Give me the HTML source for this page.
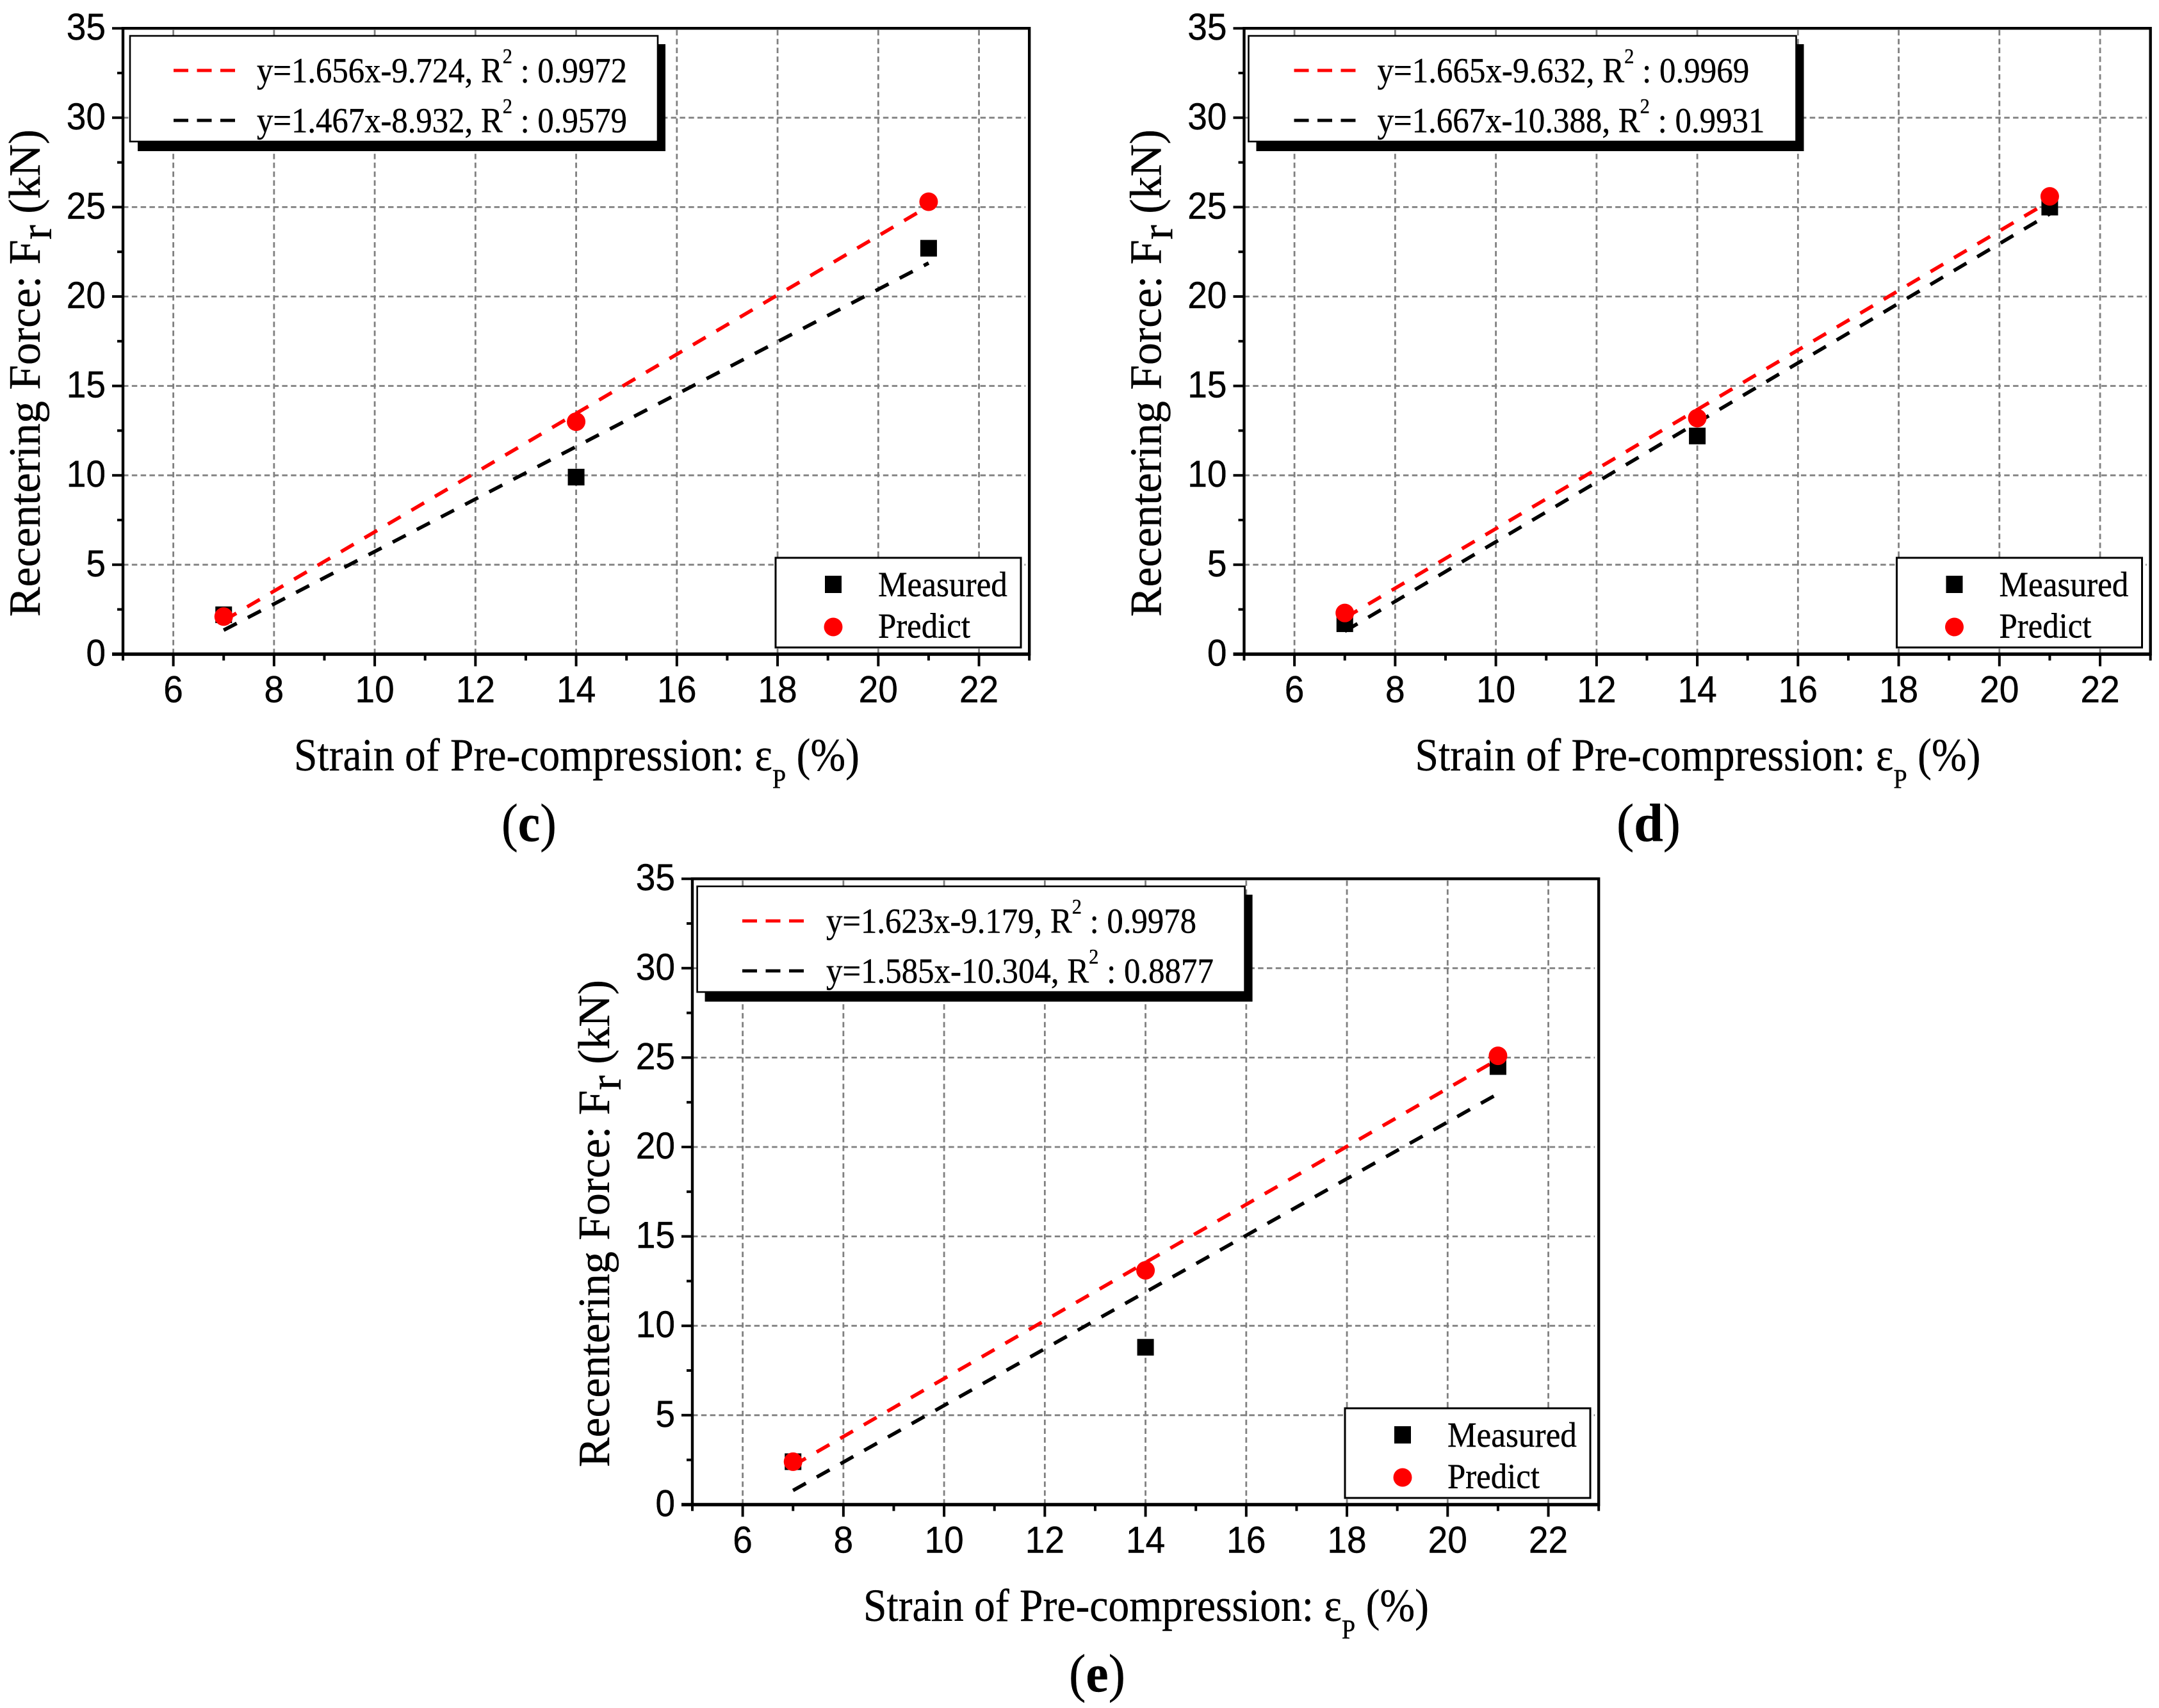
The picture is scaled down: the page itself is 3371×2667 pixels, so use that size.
<!DOCTYPE html>
<html lang="en">
<head>
<meta charset="utf-8">
<title>Recentering force vs strain of pre-compression</title>
<style>
html,body{margin:0;padding:0;background:#fff;}
svg{display:block;}
</style>
</head>
<body>
<svg id="figure" xmlns="http://www.w3.org/2000/svg" width="3371" height="2667" viewBox="0 0 3371 2667">
<rect x="0" y="0" width="3371" height="2667" fill="#ffffff"/>
</svg>
<script>
const xTickLabels = [6, 8, 10, 12, 14, 16, 18, 20, 22];
const xMinorTicks = [5, 7, 9, 11, 13, 15, 17, 19, 21, 23];
const yTickLabels = [0, 5, 10, 15, 20, 25, 30, 35];
const yMinorTicks = [2.5, 7.5, 12.5, 17.5, 22.5, 27.5, 32.5];
const strainValues = [7, 14, 21];
const fitStrainEnds = [7, 21];

const measuredC = [2.2, 9.9, 22.7];
const predictC = [2.1, 13.0, 25.3];
const fitPredictC = [1.87, 25.05];
const fitMeasuredC = [1.34, 21.87];
const equationsC = ['y=1.656x-9.724, R', 'y=1.467x-8.932, R'];
const r2C = [' : 0.9972', ' : 0.9579'];

const measuredD = [1.7, 12.2, 25.0];
const predictD = [2.3, 13.2, 25.6];
const fitPredictD = [2.02, 25.33];
const fitMeasuredD = [1.28, 24.62];
const equationsD = ['y=1.665x-9.632, R', 'y=1.667x-10.388, R'];
const r2D = [' : 0.9969', ' : 0.9931'];

const measuredE = [2.4, 8.8, 24.5];
const predictE = [2.4, 13.1, 25.1];
const fitPredictE = [2.18, 24.9];
const fitMeasuredE = [0.79, 22.98];
const equationsE = ['y=1.623x-9.179, R', 'y=1.585x-10.304, R'];
const r2E = [' : 0.9978', ' : 0.8877'];

const NS = 'http://www.w3.org/2000/svg';
const SANS = '"Liberation Sans", sans-serif';
const SERIF = '"Liberation Serif", serif';
const root = document.getElementById('figure');

function make(tag, parent, attrs) {
  const e = document.createElementNS(NS, tag);
  for (const k in attrs) e.setAttribute(k, attrs[k]);
  parent.appendChild(e);
  return e;
}

function addText(parent, name, pieces, o) {
  const t = make('text', parent, {
    'font-family': o.family,
    'font-size': o.size,
    'font-weight': o.weight || 'normal',
    'text-anchor': o.anchor || 'start',
    fill: '#000',
    stroke: '#000',
    'stroke-width': o.stroke || 0.4
  });
  
  
  pieces.forEach(function (p) {
    const s = make('tspan', t, {});
    if (p.dy) s.setAttribute('dy', p.dy);
    if (p.size) s.setAttribute('font-size', p.size);
    if (p.weight) s.setAttribute('font-weight', p.weight);
    s.setAttribute('xml:space', 'preserve');
    s.style.whiteSpace = 'pre';
    s.textContent = p.t;
  });
  let sx = o.sx || 1;
  if (o.width) sx = o.width / t.getComputedTextLength();
  const rot = o.rotate ? ' rotate(' + o.rotate + ')' : '';
  t.setAttribute('transform', 'translate(' + o.x + ',' + o.y + ')' + rot + ' scale(' + sx + ',1)');
  return t;
}

function drawPanel(p) {
  const X = function (v) { return p.ox + 192 + (v - 5) * 78.62; };
  const Y = function (v) { return p.oy + 1021.4 - v * 27.92; };
  const L = X(5), R = X(23), T = Y(35), B = Y(0);

  const g = make('g', root, {});
  
  

  const grid = make('g', g, { stroke: '#808080', 'stroke-width': 2.8, 'stroke-dasharray': '8.5 5.3', fill: 'none' });
  
  
  xTickLabels.forEach(function (v) {
    const l = make('line', grid, { x1: X(v), x2: X(v), y1: B, y2: T });
    
    
  });
  yTickLabels.slice(1, -1).forEach(function (v) {
    const l = make('line', grid, { x1: L, x2: R - 6, y1: Y(v), y2: Y(v) });
    
    
  });

  const axes = make('g', g, { stroke: '#000', fill: 'none', 'stroke-width': 4 });
  
  
  const frame = make('rect', axes, { x: L, y: T, width: R - L, height: B - T, 'stroke-width': 4.4 });
  
  
  const bottomAxis = make('line', axes, { x1: L - 17, x2: R, y1: B, y2: B, 'stroke-width': 5.4 });
  
  

  xTickLabels.forEach(function (v) {
    const l = make('line', axes, { x1: X(v), x2: X(v), y1: B, y2: B + 19 });
    
    
    addText(g, 'x-tick-label', [{ t: String(v) }], { family: SANS, size: 58, sx: 0.95, anchor: 'middle', x: X(v), y: p.oy + 1096.5 });
  });
  xMinorTicks.forEach(function (v) {
    const l = make('line', axes, { x1: X(v), x2: X(v), y1: B, y2: B + 10 });
    
    
  });
  yTickLabels.forEach(function (v) {
    const l = make('line', axes, { x1: L - 17, x2: L, y1: Y(v), y2: Y(v) });
    
    
    addText(g, 'y-tick-label', [{ t: String(v) }], { family: SANS, size: 58, sx: 0.95, anchor: 'end', x: p.ox + 165, y: Y(v) + 18 });
  });
  yMinorTicks.forEach(function (v) {
    const l = make('line', axes, { x1: L - 9, x2: L, y1: Y(v), y2: Y(v) });
    
    
  });

  const fitA = make('line', g, { x1: X(fitStrainEnds[0]), y1: Y(p.fitMeasured[0]), x2: X(fitStrainEnds[1]), y2: Y(p.fitMeasured[1]), stroke: '#000', 'stroke-width': 5.6, 'stroke-dasharray': '23 19.5' });
  
  
  const fitB = make('line', g, { x1: X(fitStrainEnds[0]), y1: Y(p.fitPredict[0]), x2: X(fitStrainEnds[1]), y2: Y(p.fitPredict[1]), stroke: '#ff0000', 'stroke-width': 5.6, 'stroke-dasharray': '23 19.5' });
  
  

  strainValues.forEach(function (s, i) {
    const m = make('rect', g, { x: X(s) - 13, y: Y(p.measured[i]) - 13, width: 26, height: 26, fill: '#000' });
    
    
  });
  strainValues.forEach(function (s, i) {
    const c = make('circle', g, { cx: X(s), cy: Y(p.predict[i]), r: 14.5, fill: '#ff0000' });
    
    
  });

  const eqLegend = make('g', g, {});
  
  
  const shadow = make('rect', eqLegend, { x: p.ox + p.boxL + 12, y: p.oy + 69, width: p.boxW, height: 167, fill: '#000' });
  
  
  const box = make('rect', eqLegend, { x: p.ox + p.boxL, y: p.oy + 56, width: p.boxW, height: 165, fill: '#fff', stroke: '#000', 'stroke-width': 2.6 });
  
  
  const rowY = [110, 188];
  const rowColor = ['#ff0000', '#000000'];
  [0, 1].forEach(function (i) {
    const ln = make('line', eqLegend, { x1: p.ox + p.lineX, x2: p.ox + p.lineX + 96, y1: p.oy + rowY[i], y2: p.oy + rowY[i], stroke: rowColor[i], 'stroke-width': 5, 'stroke-dasharray': '23 13.5' });
    
    
    addText(eqLegend, 'equation-legend-label', [
      { t: p.equations[i] },
      { t: '2', size: 33, dy: -30 },
      { t: p.r2[i], dy: 30 }
    ], { family: SERIF, size: 55, x: p.ox + p.textX, y: p.oy + rowY[i] + 18.5, width: p.textW[i] });
  });

  const markerLegend = make('g', g, {});
  
  
  const mbox = make('rect', markerLegend, { x: p.ox + 1211, y: p.oy + 871, width: 383, height: 140, fill: '#fff', stroke: '#000', 'stroke-width': 3 });
  
  
  const ms = make('rect', markerLegend, { x: p.ox + 1288, y: p.oy + 899, width: 26, height: 27, fill: '#000' });
  
  
  const mc = make('circle', markerLegend, { cx: p.ox + 1301, cy: p.oy + 979, r: 14.5, fill: '#ff0000' });
  
  
  addText(markerLegend, 'measured-legend-label', [{ t: 'Measured' }], { family: SERIF, size: 55, x: p.ox + 1371, y: p.oy + 931, width: 202 });
  addText(markerLegend, 'predict-legend-label', [{ t: 'Predict' }], { family: SERIF, size: 55, x: p.ox + 1371, y: p.oy + 995.5, width: 144 });

  addText(g, 'y-axis-title', [
    { t: 'Recentering Force: F' },
    { t: 'r', dy: 18 },
    { t: ' (kN)', dy: -18 }
  ], { family: SERIF, size: 70, x: p.ox + 62, y: p.oy + 963, rotate: -90, width: 761 });

  addText(g, 'x-axis-title', [
    { t: 'Strain of Pre-compression: \u03B5' },
    { t: 'P', size: 42, dy: 27.5 },
    { t: ' (%)', dy: -27.5 }
  ], { family: SERIF, size: 72, x: p.ox + 459, y: p.oy + 1203, width: 883 });

  addText(g, 'panel-caption', [
    { t: '(' },
    { t: p.letter, weight: 'bold' },
    { t: ')' }
  ], { family: SERIF, size: 84, x: p.capX, y: p.capY, width: p.capW });
}

const panelC = {
  name: 'panel-c', letter: 'c', ox: 0, oy: 0,
  boxL: 203, boxW: 824, lineX: 271, textX: 401, textW: [578, 578],
  capX: 783, capY: 1313, capW: 86,
  measured: measuredC, predict: predictC, fitPredict: fitPredictC, fitMeasured: fitMeasuredC,
  equations: equationsC, r2: r2C
};
const panelD = {
  name: 'panel-d', letter: 'd', ox: 1750.5, oy: 0,
  boxL: 199, boxW: 855, lineX: 270, textX: 400, textW: [581, 605],
  capX: 2524, capY: 1313, capW: 100,
  measured: measuredD, predict: predictD, fitPredict: fitPredictD, fitMeasured: fitMeasuredD,
  equations: equationsD, r2: r2D
};
const panelE = {
  name: 'panel-e', letter: 'e', ox: 889, oy: 1328,
  boxL: 199.6, boxW: 855, lineX: 270, textX: 401, textW: [578, 605],
  capX: 1669, capY: 2641, capW: 88,
  measured: measuredE, predict: predictE, fitPredict: fitPredictE, fitMeasured: fitMeasuredE,
  equations: equationsE, r2: r2E
};

drawPanel(panelC);
drawPanel(panelD);
drawPanel(panelE);
</script>
</body>
</html>
